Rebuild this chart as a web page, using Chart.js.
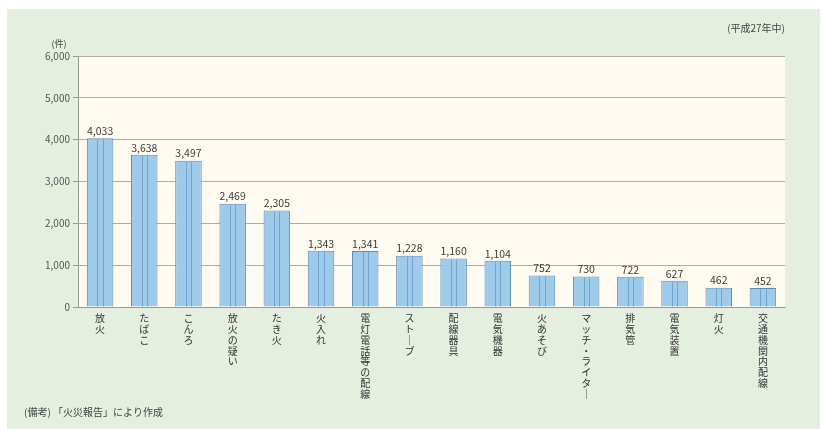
<!DOCTYPE html>
<html><head><meta charset="utf-8">
<script src="https://cdn.jsdelivr.net/npm/chart.js@4/dist/chart.umd.min.js"></script>
<style>html,body{margin:0;padding:0;background:#fff;}#wrap{width:823px;height:429px;position:relative;}</style>
</head><body><div id="wrap"><canvas id="c"></canvas></div>
<script>
const categories = ["放火","たばこ","こんろ","放火の疑い","たき火","火入れ","電灯電話等の配線","ストーブ","配線器具","電気機器","火あそび","マッチ・ライター","排気管","電気装置","灯火","交通機関内配線"];
const values = [4033,3638,3497,2469,2305,1343,1341,1228,1160,1104,752,730,722,627,462,452];
const yTicks = [0,1000,2000,3000,4000,5000,6000];
const unitLabel = "(件)";
const periodLabel = "(平成27年中)";
const noteLabel = "(備考) 「火災報告」により作成";
const FONT = '"Noto Sans CJK JP", "Noto Sans", sans-serif';

const vertLabels = categories.map(s => Array.from(s).map(ch => ch === 'ー' ? '｜' : ch));

const bgPlugin = {
  id: 'bg',
  beforeDraw(chart) {
    const ctx = chart.ctx, a = chart.chartArea;
    ctx.save();
    ctx.fillStyle = '#ffffff';
    ctx.fillRect(0, 0, chart.width, chart.height);
    ctx.fillStyle = '#e5efe0';
    ctx.fillRect(7, 9, 813, 420);
    ctx.fillStyle = '#fffbf1';
    ctx.fillRect(a.left, a.top, a.right - a.left, a.bottom - a.top);
    ctx.restore();
  },
  afterDatasetsDraw(chart) {
    const ctx = chart.ctx;
    const meta = chart.getDatasetMeta(0);
    ctx.save();
    meta.data.forEach((bar, i) => {
      const w = bar.width, left = bar.x - w / 2, top = bar.y, bottom = bar.base;
      ctx.strokeStyle = 'rgba(110,160,205,0.9)';
      ctx.lineWidth = 1;
      [0.4, 0.6].forEach(f => {
        const x = Math.round(left + w * f) + 0.5;
        ctx.beginPath(); ctx.moveTo(x, top + 1); ctx.lineTo(x, bottom); ctx.stroke();
      });
      ctx.fillStyle = '#3a3a3a';
      ctx.font = '10.5px ' + FONT;
      ctx.textAlign = 'center';
      ctx.textBaseline = 'bottom';
      ctx.fillText(values[i].toLocaleString('en-US'), bar.x, top - 2);
    });
    ctx.restore();
  },
  afterDraw(chart) {
    const ctx = chart.ctx;
    ctx.save();
    ctx.fillStyle = '#444';
    ctx.font = '9px ' + FONT;
    ctx.textAlign = 'center';
    ctx.textBaseline = 'middle';
    ctx.fillText(unitLabel, 59, 44);
    ctx.textAlign = 'right';
    ctx.font = '10px ' + FONT;
    ctx.fillText(periodLabel, 785, 28);
    ctx.textAlign = 'left';
    ctx.fillText(noteLabel, 24, 412);
    ctx.restore();
  }
};

new Chart(document.getElementById('c'), {
  type: 'bar',
  data: {
    labels: vertLabels,
    datasets: [{
      data: values,
      backgroundColor: '#9fcbea',
      borderColor: '#5a8cb4',
      borderWidth: 1,
      barPercentage: 0.6,
      categoryPercentage: 1.0
    }]
  },
  options: {
    responsive: true,
    maintainAspectRatio: false,
    animation: false,
    layout: { padding: { top: 56, right: 38, left: 0, bottom: 0 } },
    plugins: { legend: { display: false }, tooltip: { enabled: false } },
    scales: {
      y: {
        min: 0, max: 6000,
        afterBuildTicks(scale) { scale.ticks = yTicks.map(v => ({ value: v })); },
        afterFit(scale) { scale.width = 78; },
        ticks: {
          color: '#555',
          font: { family: FONT, size: 10 },
          padding: 3,
          callback: v => v.toLocaleString('en-US')
        },
        grid: { color: '#b5aa9e', lineWidth: 1, tickLength: 5, tickColor: '#999' },
        border: { display: true, color: '#9a9a9a', width: 1 }
      },
      x: {
        afterFit(scale) { scale.height = 122; },
        ticks: {
          color: '#333',
          font: { family: FONT, size: 10, lineHeight: 1.08 },
          maxRotation: 0, minRotation: 0, autoSkip: false, padding: 6
        },
        grid: { display: true, drawOnChartArea: false, offset: true, tickLength: 0 },
        border: { display: true, color: '#9a9a9a', width: 1 }
      }
    }
  },
  plugins: [bgPlugin]
});
</script></body></html>
